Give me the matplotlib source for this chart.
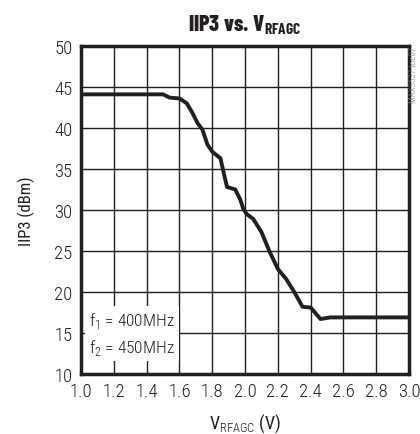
import matplotlib
matplotlib.use("Agg")
import matplotlib.pyplot as plt
from matplotlib import font_manager

# data
v_rfagc = [1.0, 1.2, 1.4, 1.5, 1.54, 1.6, 1.645, 1.68, 1.71, 1.74, 1.77, 1.8, 1.85,
           1.87, 1.89, 1.94, 1.97, 1.99, 2.01, 2.05, 2.1, 2.15, 2.2, 2.25, 2.3,
           2.35, 2.4, 2.46, 2.52, 2.7, 3.0]
iip3 = [44.1, 44.1, 44.1, 44.1, 43.7, 43.6, 43.0, 41.8, 40.6, 39.8, 38.0, 37.1, 36.3,
        34.5, 32.8, 32.5, 31.3, 30.1, 29.5, 28.9, 27.3, 24.9, 22.8, 21.6, 20.0,
        18.2, 18.1, 16.7, 16.9, 16.9, 16.9]
xticks = [1.0, 1.2, 1.4, 1.6, 1.8, 2.0, 2.2, 2.4, 2.6, 2.8, 3.0]
yticks = [10, 15, 20, 25, 30, 35, 40, 45, 50]

names = {f.name for f in font_manager.fontManager.ttflist}
def pick(cands):
    for c in cands:
        if c in names:
            return c
    return "DejaVu Sans"
fam = pick(["Roboto Condensed", "Barlow Semi Condensed", "Archivo Narrow"])
tfam = pick(["Barlow Condensed", "Roboto Condensed", "Asap Condensed"])

plt.rcParams["font.family"] = [fam, "DejaVu Sans"]
plt.rcParams["font.weight"] = "light"
plt.rcParams["mathtext.fontset"] = "custom"
plt.rcParams["mathtext.rm"] = fam + ":light"
plt.rcParams["mathtext.bf"] = tfam + ":bold"

fig = plt.figure(figsize=(4.2, 4.35), dpi=100)
ax = fig.add_axes([0.193, 0.138, 0.781, 0.754])

ax.plot(v_rfagc, iip3, color="#231f20", lw=2.8, solid_capstyle="butt", zorder=3)

ax.set_xlim(1.0, 3.0)
ax.set_ylim(10, 50)
ax.set_xticks(xticks)
ax.set_xticklabels(["%.1f" % t for t in xticks])
ax.set_yticks(yticks)
ax.grid(True, color="#231f20", lw=1.0)
ax.tick_params(length=0, labelsize=13.5, pad=6, colors="#231f20")
for s in ax.spines.values():
    s.set_linewidth(2.5)
    s.set_color("#231f20")

ax.text(1.05, 14.95, "f$_1$ = 400MHz\nf$_2$ = 450MHz", fontsize=12.5, va="center",
        ha="left", linespacing=1.45, color="#231f20",
        bbox=dict(facecolor="white", edgecolor="none", pad=3), zorder=4)

ax.set_xlabel("V$_{\\mathrm{RFAGC}}$ (V)", fontsize=13, labelpad=8, color="#231f20")
ax.set_ylabel("IIP3 (dBm)", fontsize=12, labelpad=14, color="#231f20")
ax.set_title("IIP3 vs. V$_{\\mathbf{RFAGC}}$", fontsize=16, fontweight="heavy",
             family=tfam, pad=11, color="#231f20")

fig.text(0.996, 0.892, "MAX3537 toc07", rotation=90, fontsize=6.5, color="#777777",
         ha="right", va="top")

fig.savefig("out.png", dpi=100)
